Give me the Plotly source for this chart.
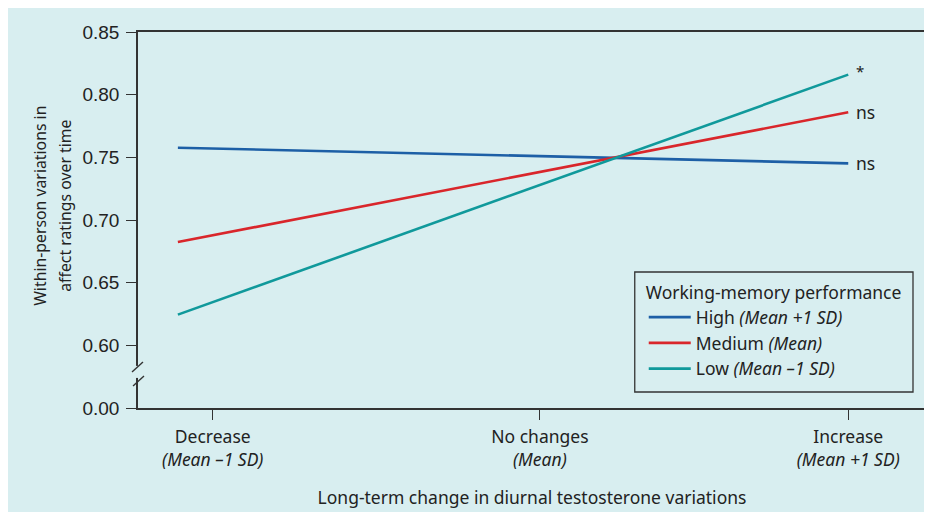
import plotly.graph_objects as go

# Data
x_levels = [-1, 1]
series_names = ["High <i>(Mean +1 SD)</i>", "Medium <i>(Mean)</i>", "Low <i>(Mean \u20131 SD)</i>"]
high = [0.7577, 0.7452]
medium = [0.6824, 0.7859]
low = [0.6245, 0.8160]
sig_labels = ["ns", "ns", "*"]
x_tick_vals = [-0.896, 0.08, 1.0]
x_tick_text = ["Decrease<br><i>(Mean \u20131 SD)</i>", "No changes<br><i>(Mean)</i>", "Increase<br><i>(Mean +1 SD)</i>"]
y_tick_vals = [0.55, 0.60, 0.65, 0.70, 0.75, 0.80, 0.85]
y_tick_text = ["0.00", "0.60", "0.65", "0.70", "0.75", "0.80", "0.85"]
y_title_lines = ["Within-person variations in", "affect ratings over time"]

colors = ["#1d5fa6", "#d9262b", "#10999b"]
BG = "#d8eef0"
AX = "#333333"
FONT = "Noto Sans"
FS = 17.5

fig = go.Figure()
for name, vals, col in zip(series_names, [high, medium, low], colors):
    fig.add_trace(go.Scatter(x=x_levels, y=vals, mode="lines", name=name,
                             line=dict(color=col, width=2.6)))

# significance labels at line ends
for vals, lab in zip([high, medium, low], sig_labels):
    fig.add_annotation(x=x_levels[-1], y=vals[-1], text=lab, showarrow=False,
                       xanchor="left", xshift=6, yshift=4 if lab == "*" else 0,
                       font=dict(family=FONT, size=FS if lab != "*" else 15, color="#222"))

# axis break
fig.add_shape(type="rect", xref="paper", yref="paper", x0=-0.004, x1=0.004, y0=0.080, y1=0.112,
              fillcolor=BG, line=dict(width=0), layer="above")
fig.add_shape(type="line", xref="paper", yref="paper", x0=-0.0076, y0=0.0957, x1=0.0063, y1=0.1223,
              line=dict(color=AX, width=1.4), layer="above")
fig.add_shape(type="line", xref="paper", yref="paper", x0=-0.0063, y0=0.0585, x1=0.0076, y1=0.0851,
              line=dict(color=AX, width=1.4), layer="above")

# legend frame
fig.add_shape(type="rect", xref="paper", yref="paper", x0=0.6304, x1=0.9835, y0=0.0426, y1=0.3617,
              fillcolor=BG, line=dict(color=AX, width=1.3), layer="below")

# y axis title (two lines)
for txt, xp in zip(y_title_lines, [-0.1247, -0.0930]):
    fig.add_annotation(xref="paper", yref="paper", x=xp, y=0.537, xanchor="center", yanchor="middle",
                       text=txt, textangle=-90, showarrow=False,
                       font=dict(family=FONT, size=15.8, color="#222"))

fig.update_layout(
    width=924, height=504,
    margin=dict(l=130, r=4, t=24, b=104),
    paper_bgcolor=BG, plot_bgcolor=BG,
    font=dict(family=FONT, size=FS, color="#222"),
    showlegend=True,
    legend=dict(x=0.6418, y=0.3497, xanchor="left", yanchor="top",
                bgcolor="rgba(0,0,0,0)", borderwidth=0,
                title=dict(text="Working-memory performance", font=dict(family=FONT, size=FS)),
                font=dict(family=FONT, size=FS), tracegroupgap=0, itemwidth=42),
    xaxis=dict(range=[-1.119, 1.232], tickvals=x_tick_vals, ticktext=x_tick_text,
               showgrid=False, zeroline=False, showline=True, linecolor=AX, linewidth=1.5,
               mirror=True, ticks="outside", ticklen=10, tickwidth=1.3, tickcolor=AX,
               tickfont=dict(family=FONT, size=FS, color="#222"), ticklabelstandoff=2,
               title=dict(text="Long-term change in diurnal testosterone variations",
                          font=dict(family=FONT, size=FS, color="#222"), standoff=22)),
    yaxis=dict(range=[0.55, 0.85], tickvals=y_tick_vals, ticktext=y_tick_text,
               showgrid=False, zeroline=False, showline=True, linecolor=AX, linewidth=1.5,
               mirror=True, ticks="outside", ticklen=10, tickwidth=1.3, tickcolor=AX,
               tickfont=dict(family="Liberation Sans", size=19, color="#222"), ticklabelstandoff=3),
)

fig.write_html("out.html")
